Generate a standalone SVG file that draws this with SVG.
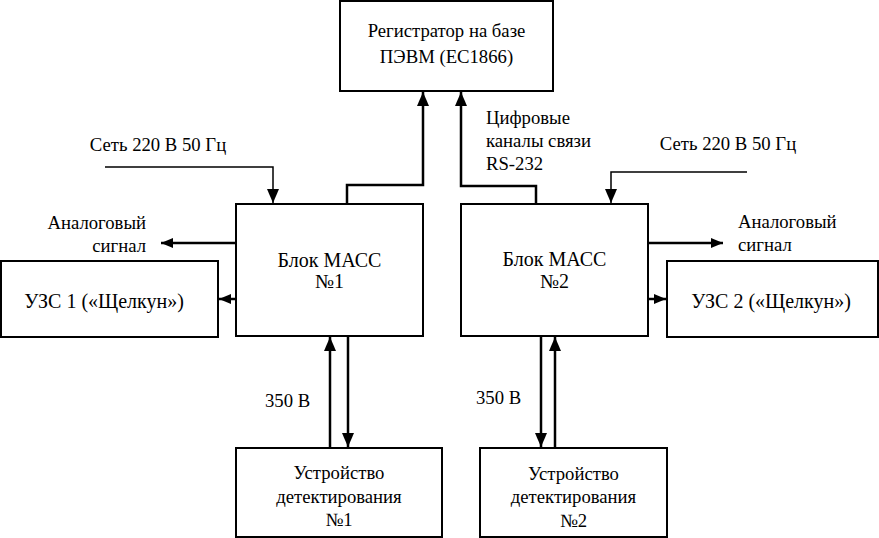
<svg xmlns="http://www.w3.org/2000/svg" width="879" height="538" viewBox="0 0 879 538" font-family="Liberation Serif, Times New Roman, serif">
<defs>
<style>
.box{fill:#fff;stroke:#000;stroke-width:2}
.thick{fill:none;stroke:#000;stroke-width:2.5}
.thin{fill:none;stroke:#000;stroke-width:1.5}
</style>
<marker id="ah" viewBox="0 0 14 12" refX="14" refY="6" markerWidth="14" markerHeight="12" markerUnits="userSpaceOnUse" orient="auto"><path d="M0,0 L14,6 L0,12 z" fill="#000"/></marker>
<marker id="as" viewBox="0 0 12 10" refX="12" refY="5" markerWidth="12" markerHeight="10" markerUnits="userSpaceOnUse" orient="auto"><path d="M0,0 L12,5 L0,10 z" fill="#000"/></marker>
</defs>
<rect width="879" height="538" fill="#fff"/>
<g id="connectors">
<path class="thick" d="M347,204 V185 H423 V92" marker-end="url(#ah)"/>
<path class="thick" d="M536,204 V186 H461 V92" marker-end="url(#ah)"/>
<path class="thin" d="M105,167 H273 V203" marker-end="url(#ah)"/>
<path class="thin" d="M747,172 H611 V203" marker-end="url(#ah)"/>
<path class="thick" d="M236,243 H161" marker-end="url(#as)"/>
<path class="thick" d="M236,299 H219" marker-end="url(#as)"/>
<path class="thick" d="M648,243 H723" marker-end="url(#as)"/>
<path class="thick" d="M648,299 H666" marker-end="url(#as)"/>
<path class="thick" d="M330,448 V337" marker-end="url(#ah)"/>
<path class="thick" d="M348,336 V447" marker-end="url(#ah)"/>
<path class="thick" d="M541,336 V447" marker-end="url(#ah)"/>
<path class="thick" d="M555,448 V337" marker-end="url(#ah)"/>
</g>
<g id="labels" font-family="Liberation Serif, serif" font-size="18.7">
<text x="158" y="151" text-anchor="middle">Сеть 220 В 50 Гц</text>
<text x="728" y="150" text-anchor="middle">Сеть 220 В 50 Гц</text>
<text x="146" y="229" text-anchor="end">Аналоговый</text>
<text x="146" y="252" text-anchor="end">сигнал</text>
<text x="738" y="228">Аналоговый</text>
<text x="738" y="251">сигнал</text>
<text x="486" y="124">Цифровые</text>
<text x="486" y="147">каналы связи</text>
<text x="486" y="170">RS-232</text>
<text x="265" y="407">350 В</text>
<text x="476" y="404">350 В</text>
</g>
<g id="registrator" font-family="Liberation Serif, serif" font-size="18.7" text-anchor="middle">
<rect class="box" x="340" y="1" width="213" height="90"/>
<text x="446.5" y="37">Регистратор на базе</text>
<text x="446.5" y="63">ПЭВМ (ЕС1866)</text>
</g>
<g id="block1" font-family="Liberation Serif, serif" font-size="20" text-anchor="middle">
<rect class="box" x="236" y="204" width="187" height="132"/>
<text x="329.5" y="267">Блок МАСС</text>
<text x="329.5" y="288">№1</text>
</g>
<g id="block2" font-family="Liberation Serif, serif" font-size="20" text-anchor="middle">
<rect class="box" x="461" y="204" width="187" height="132"/>
<text x="554.5" y="266">Блок МАСС</text>
<text x="554.5" y="288">№2</text>
</g>
<g id="uzs1" font-family="Liberation Serif, serif" font-size="20" text-anchor="middle">
<rect class="box" x="1" y="261" width="217" height="76"/>
<text x="104" y="308">УЗС 1 («Щелкун»)</text>
</g>
<g id="uzs2" font-family="Liberation Serif, serif" font-size="20" text-anchor="middle">
<rect class="box" x="667" y="261" width="211" height="76"/>
<text x="771" y="308">УЗС 2 («Щелкун»)</text>
</g>
<g id="det1" font-family="Liberation Serif, serif" font-size="18.7" text-anchor="middle">
<rect class="box" x="236" y="448" width="206" height="89"/>
<text x="339" y="479">Устройство</text>
<text x="339" y="503">детектирования</text>
<text x="339" y="526">№1</text>
</g>
<g id="det2" font-family="Liberation Serif, serif" font-size="18.7" text-anchor="middle">
<rect class="box" x="480" y="448" width="187" height="89"/>
<text x="573.5" y="480">Устройство</text>
<text x="573.5" y="503">детектирования</text>
<text x="573.5" y="527">№2</text>
</g>
</svg>
